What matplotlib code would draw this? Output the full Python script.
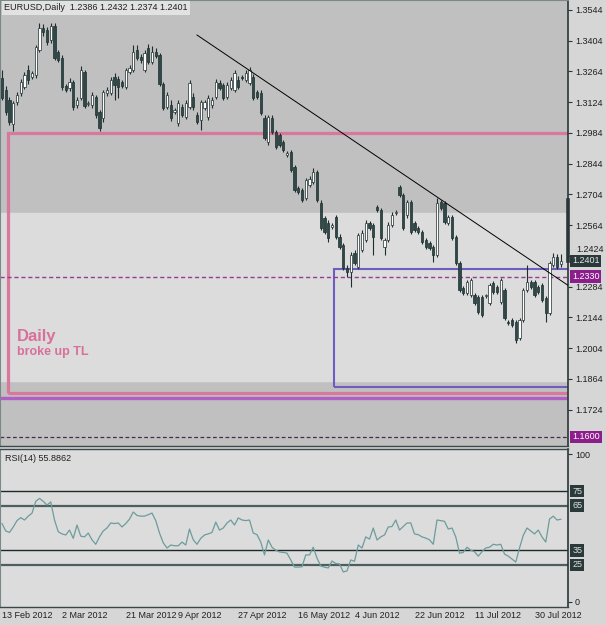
"""EURUSD daily chart (MetaTrader style) with RSI(14) sub-window."""

import matplotlib
matplotlib.use("Agg")
import matplotlib.pyplot as plt
from matplotlib.patches import Rectangle
import numpy as np

plt.rcParams["font.family"] = ["Liberation Sans", "DejaVu Sans"]

# ── data ─────────────────────────────────────────────────────────────────────
opens = [
    1.3234, 1.3180, 1.3134, 1.3025, 1.3125, 1.3166, 1.3193, 1.3271, 1.3239, 1.3248,
    1.3362, 1.3462, 1.3453, 1.3407, 1.3471, 1.3353, 1.3325, 1.3198, 1.3189, 1.3216,
    1.3111, 1.3143, 1.3262, 1.3116, 1.3111, 1.3148, 1.3079, 1.3052, 1.3166, 1.3166,
    1.3239, 1.3230, 1.3216, 1.3193, 1.3262, 1.3271, 1.3362, 1.3330, 1.3271, 1.3371,
    1.3307, 1.3353, 1.3339, 1.3207, 1.3102, 1.3111, 1.3079, 1.3029, 1.3102, 1.3057,
    1.3102, 1.3148, 1.3066, 1.3043, 1.3098, 1.3057, 1.3111, 1.3148, 1.3212, 1.3203,
    1.3148, 1.3189, 1.3180, 1.3225, 1.3239, 1.3225, 1.3212, 1.3239, 1.3171, 1.3166,
    1.3052, 1.2943, 1.3052, 1.2988, 1.2975, 1.2943, 1.2884, 1.2897, 1.2829, 1.2734,
    1.2724, 1.2688, 1.2747, 1.2761, 1.2806, 1.2665, 1.2597, 1.2574, 1.2556, 1.2601,
    1.2510, 1.2474, 1.2369, 1.2351, 1.2437, 1.2374, 1.2451, 1.2497, 1.2574, 1.2565,
    1.2647, 1.2633, 1.2465, 1.2497, 1.2565, 1.2620, 1.2738, 1.2701, 1.2610, 1.2670,
    1.2574, 1.2551, 1.2533, 1.2497, 1.2483, 1.2465, 1.2428, 1.2670, 1.2665, 1.2574,
    1.2601, 1.2510, 1.2392, 1.2278, 1.2255, 1.2246, 1.2246, 1.2237, 1.2237, 1.2242,
    1.2209, 1.2301, 1.2283, 1.2214, 1.2269, 1.2123, 1.2132, 1.2123, 1.2051, 1.2132,
    1.2269, 1.2305, 1.2305, 1.2283, 1.2292, 1.2233, 1.2164, 1.2383, 1.2419, 1.2386,
]
highs = [
    1.3271, 1.3198, 1.3148, 1.3130, 1.3171, 1.3230, 1.3262, 1.3294, 1.3266, 1.3385,
    1.3485, 1.3480, 1.3467, 1.3485, 1.3485, 1.3362, 1.3339, 1.3207, 1.3234, 1.3225,
    1.3148, 1.3289, 1.3271, 1.3130, 1.3171, 1.3157, 1.3089, 1.3180, 1.3193, 1.3239,
    1.3257, 1.3243, 1.3225, 1.3280, 1.3294, 1.3385, 1.3385, 1.3344, 1.3362, 1.3389,
    1.3380, 1.3371, 1.3348, 1.3216, 1.3171, 1.3134, 1.3098, 1.3134, 1.3116, 1.3134,
    1.3225, 1.3166, 1.3079, 1.3134, 1.3134, 1.3157, 1.3148, 1.3230, 1.3225, 1.3212,
    1.3216, 1.3239, 1.3271, 1.3243, 1.3248, 1.3271, 1.3284, 1.3253, 1.3180, 1.3180,
    1.3066, 1.3066, 1.3066, 1.2998, 1.2984, 1.2952, 1.2902, 1.2906, 1.2838, 1.2743,
    1.2734, 1.2779, 1.2788, 1.2825, 1.2815, 1.2679, 1.2606, 1.2588, 1.2574, 1.2610,
    1.2524, 1.2483, 1.2383, 1.2442, 1.2451, 1.2528, 1.2542, 1.2588, 1.2583, 1.2574,
    1.2656, 1.2642, 1.2506, 1.2579, 1.2624, 1.2633, 1.2747, 1.2711, 1.2679, 1.2679,
    1.2583, 1.2560, 1.2542, 1.2506, 1.2492, 1.2474, 1.2688, 1.2679, 1.2674, 1.2610,
    1.2610, 1.2519, 1.2401, 1.2287, 1.2315, 1.2324, 1.2255, 1.2246, 1.2246, 1.2251,
    1.2301, 1.2310, 1.2292, 1.2324, 1.2278, 1.2132, 1.2142, 1.2132, 1.2142, 1.2278,
    1.2383, 1.2315, 1.2315, 1.2292, 1.2301, 1.2242, 1.2401, 1.2437, 1.2433, 1.2432,
]
lows = [
    1.3134, 1.3066, 1.3020, 1.2993, 1.3111, 1.3152, 1.3184, 1.3207, 1.3230, 1.3234,
    1.3353, 1.3426, 1.3385, 1.3394, 1.3316, 1.3307, 1.3180, 1.3171, 1.3175, 1.3089,
    1.3098, 1.3134, 1.3098, 1.3107, 1.3098, 1.3052, 1.2993, 1.3034, 1.3152, 1.3157,
    1.3134, 1.3143, 1.3189, 1.3184, 1.3253, 1.3262, 1.3316, 1.3303, 1.3262, 1.3298,
    1.3298, 1.3325, 1.3198, 1.3089, 1.3093, 1.3039, 1.3070, 1.3016, 1.3057, 1.3048,
    1.3093, 1.3089, 1.3025, 1.2998, 1.3089, 1.3043, 1.3098, 1.3139, 1.3180, 1.3134,
    1.3139, 1.3180, 1.3171, 1.3184, 1.3225, 1.3216, 1.3203, 1.3134, 1.3139, 1.3066,
    1.2952, 1.2929, 1.2979, 1.2911, 1.2920, 1.2897, 1.2875, 1.2806, 1.2715, 1.2706,
    1.2670, 1.2679, 1.2738, 1.2752, 1.2670, 1.2542, 1.2524, 1.2488, 1.2547, 1.2501,
    1.2456, 1.2360, 1.2328, 1.2283, 1.2383, 1.2365, 1.2442, 1.2488, 1.2542, 1.2428,
    1.2624, 1.2497, 1.2428, 1.2488, 1.2556, 1.2610, 1.2692, 1.2542, 1.2597, 1.2524,
    1.2533, 1.2524, 1.2478, 1.2456, 1.2451, 1.2396, 1.2419, 1.2633, 1.2570, 1.2565,
    1.2497, 1.2383, 1.2260, 1.2246, 1.2246, 1.2237, 1.2201, 1.2160, 1.2146, 1.2233,
    1.2201, 1.2251, 1.2251, 1.2205, 1.2132, 1.2110, 1.2101, 1.2027, 1.2041, 1.2123,
    1.2260, 1.2274, 1.2237, 1.2251, 1.2214, 1.2123, 1.2155, 1.2374, 1.2365, 1.2374,
]
closes = [
    1.3143, 1.3079, 1.3034, 1.3121, 1.3157, 1.3216, 1.3248, 1.3225, 1.3257, 1.3375,
    1.3462, 1.3444, 1.3398, 1.3471, 1.3325, 1.3316, 1.3193, 1.3180, 1.3216, 1.3102,
    1.3134, 1.3271, 1.3107, 1.3121, 1.3157, 1.3066, 1.3007, 1.3171, 1.3180, 1.3225,
    1.3203, 1.3193, 1.3198, 1.3271, 1.3280, 1.3353, 1.3325, 1.3316, 1.3348, 1.3307,
    1.3353, 1.3335, 1.3207, 1.3098, 1.3157, 1.3052, 1.3089, 1.3121, 1.3066, 1.3121,
    1.3212, 1.3102, 1.3034, 1.3125, 1.3125, 1.3143, 1.3134, 1.3216, 1.3189, 1.3143,
    1.3203, 1.3225, 1.3257, 1.3193, 1.3234, 1.3257, 1.3271, 1.3143, 1.3148, 1.3075,
    1.2961, 1.3057, 1.2988, 1.2920, 1.2929, 1.2906, 1.2893, 1.2815, 1.2724, 1.2715,
    1.2679, 1.2770, 1.2774, 1.2806, 1.2679, 1.2551, 1.2533, 1.2506, 1.2565, 1.2510,
    1.2465, 1.2369, 1.2351, 1.2428, 1.2392, 1.2519, 1.2528, 1.2574, 1.2551, 1.2510,
    1.2633, 1.2506, 1.2497, 1.2565, 1.2610, 1.2624, 1.2701, 1.2551, 1.2670, 1.2533,
    1.2542, 1.2533, 1.2488, 1.2465, 1.2460, 1.2428, 1.2665, 1.2642, 1.2579, 1.2601,
    1.2506, 1.2392, 1.2269, 1.2255, 1.2305, 1.2315, 1.2209, 1.2169, 1.2155, 1.2244,
    1.2292, 1.2260, 1.2260, 1.2315, 1.2142, 1.2119, 1.2110, 1.2041, 1.2132, 1.2269,
    1.2305, 1.2283, 1.2246, 1.2260, 1.2223, 1.2164, 1.2392, 1.2419, 1.2374, 1.2401,
]
rsi = [
    53, 48, 47, 50.7, 55, 57, 55.4, 58, 60, 68,
    70, 68, 65.5, 67.6, 55.4, 47.5, 46, 45.3, 48.6, 43,
    52, 44.5, 44, 46.6, 42, 39, 44, 48, 50, 53.4,
    53, 53.4, 50.7, 53, 56, 60.8, 58.5, 58, 58, 59,
    60.1, 55, 46.6, 40, 36.5, 38.5, 38, 38, 40.5, 38.5,
    49.3, 42, 39, 43, 45.3, 46, 47, 54, 48.6, 50,
    53.4, 55.4, 52, 56.8, 55.4, 55, 55.4, 46.6, 45.5, 40.5,
    31.8, 41.9, 37, 35, 33.8, 33.5, 33, 28.4, 23.6, 23.6,
    23.8, 31.8, 31.8, 37, 29.7, 24.3, 23.5, 23, 27.7, 26,
    25.7, 20.3, 21, 28.4, 27.5, 38.5, 36.5, 44, 42.5, 50,
    41.9, 44, 45.3, 50.7, 51, 55.4, 48.6, 51, 53.4, 53.4,
    46, 45.5, 44, 43.2, 42, 39, 55.4, 55, 54.5, 49.3,
    50, 44, 33, 33.5, 37, 35, 34, 31, 34, 36.5,
    37, 39, 38.5, 39, 32.4, 31, 29, 27, 36.5, 45,
    50, 48, 46, 48.6, 44, 40.5, 56, 58, 55.4, 55.9,
]

date_idx = [0, 16, 33, 47, 63, 79, 94, 110, 126, 142]
date_labels = ["13 Feb 2012", "2 Mar 2012", "21 Mar 2012", "9 Apr 2012", "27 Apr 2012",
               "16 May 2012", "4 Jun 2012", "22 Jun 2012", "11 Jul 2012", "30 Jul 2012"]
price_ticks = [1.3544, 1.3404, 1.3264, 1.3124, 1.2984, 1.2844, 1.2704, 1.2564,
               1.2424, 1.2284, 1.2144, 1.2004, 1.1864, 1.1724]
rsi_levels = [75, 65, 35, 25]

# drawn objects (price levels)
band_lo, band_hi = 1.1856, 1.2620
pink_top, pink_bottom, pink_left = 1.2985, 1.1800, 1.6
blue_top, blue_bottom, blue_left = 1.2365, 1.1825, 88.5
purple_level = 1.1775
dash_levels = [1.2330, 1.1600]
trend_x = [52.0, 151.2]
trend_y = [1.3430, 1.2287]

DARK_BG = "#c0c0c0"
LIGHT_BG = "#dcdcdc"
MARGIN = "#d6d6d6"
BEAR = "#2f4848"
WICK = "#1e2e2e"
AXIS = "#2a3636"
PINK = "#d8789c"
BLUE = "#6e5cc0"
PURPLE = "#b060c4"
LABEL_PURPLE = "#8c1e8c"

W, H = 606, 625
fig = plt.figure(figsize=(W / 100, H / 100), dpi=100, facecolor=MARGIN)
ax = fig.add_axes([0, 1 - 446 / H, 568 / W, 446 / H], facecolor=DARK_BG)
ax_rsi = fig.add_axes([0, 1 - 607 / H, 568 / W, 158 / H], facecolor=LIGHT_BG, sharex=ax)

x = np.arange(len(opens))
o, hi, lo, c = map(np.array, (opens, highs, lows, closes))
up = c >= o

# ── price pane ───────────────────────────────────────────────────────────────
ax.axhspan(band_lo, band_hi, color=LIGHT_BG, zorder=0)
ax.add_patch(Rectangle((pink_left, pink_bottom), 300, pink_top - pink_bottom,
                       fill=False, ec=PINK, lw=2.3, zorder=2))
ax.add_patch(Rectangle((blue_left, blue_bottom), 300, blue_top - blue_bottom,
                       fill=False, ec=BLUE, lw=1.5, zorder=2))
ax.axhline(purple_level, color=PURPLE, lw=2.4, zorder=2)
ax.axhline(dash_levels[0], color="#963c96", lw=1.0, ls=(0, (3, 2)), zorder=2)
ax.axhline(dash_levels[1], color="#4a2a4a", lw=0.9, ls=(0, (3, 2)), zorder=2)

ax.vlines(x, lo, hi, color=WICK, lw=0.8, zorder=3)
ax.bar(x, c - o, bottom=o, width=0.62, color=np.where(up, "white", BEAR),
       edgecolor=WICK, lw=0.5, zorder=4)
ax.plot(trend_x, trend_y, color="black", lw=0.7, zorder=5)

ax.text(4.0, 1.2056, "Daily", color="#d8709a", fontsize=12, fontweight="bold",
        va="center", ha="left")
ax.text(4.0, 1.1987, "broke up TL", color="#d8709a", fontsize=9, fontweight="bold",
        va="center", ha="left")

ax.set_xlim(-0.533, 150.93)
ax.set_ylim(1.15585, 1.35895)
ax.yaxis.tick_right()
ax.set_yticks(price_ticks)
# 1.2424 sits right under the last-price box, so it is written a little higher
ax.set_yticklabels(["" if t == 1.2424 else f"{t:.4f}" for t in price_ticks])
ax.tick_params(axis="y", length=3, width=0.8, color=AXIS, labelsize=6.5,
               labelcolor="#202020", pad=2)
ax.tick_params(axis="x", bottom=False, labelbottom=False)
ax.annotate("1.2424", xy=(1, 1.2424), xycoords=("axes fraction", "data"),
            xytext=(5.8, 4.5), textcoords="offset points", va="center", ha="left",
            fontsize=6.5, color="#202020", annotation_clip=False)
for side, col, lw in [("right", AXIS, 1.2), ("left", "#7a8888", 0.8),
                      ("top", "#7a8888", 0.8), ("bottom", "#3a4848", 1.0)]:
    ax.spines[side].set_color(col)
    ax.spines[side].set_linewidth(lw)

# current-bar range marker on the price scale
ax.plot([1, 1], [closes[-1], 1.2679], transform=ax.get_yaxis_transform(),
        color=AXIS, lw=2.6, clip_on=False, zorder=6)


def scale_label(a, y, text, bg, fg="white"):
    a.annotate(text, xy=(1, y), xycoords=("axes fraction", "data"),
               xytext=(3, 0), textcoords="offset points", va="center", ha="left",
               fontsize=6.5, color=fg, annotation_clip=False, zorder=7,
               bbox=dict(boxstyle="square,pad=0.2", fc=bg, ec="none"))


scale_label(ax, closes[-1], f"{closes[-1]:.4f}", "#2a3a3a", "#e8e8e8")
scale_label(ax, dash_levels[0], f"{dash_levels[0]:.4f}", LABEL_PURPLE)
scale_label(ax, dash_levels[1], f"{dash_levels[1]:.4f}", LABEL_PURPLE)

fig.text(4 / W, 1 - 8 / H,
         f"EURUSD,Daily  {opens[-1]:.4f} {highs[-1]:.4f} {lows[-1]:.4f} {closes[-1]:.4f}",
         fontsize=6.5, color="#202020", va="center", ha="left",
         bbox=dict(boxstyle="square,pad=0.25", fc="#e2e2e2", ec="none"))

# ── RSI pane ─────────────────────────────────────────────────────────────────
for lvl in rsi_levels:
    heavy = lvl in (65, 25)
    ax_rsi.axhline(lvl, color="#4e5e5e" if heavy else "#1e2a2a",
                   lw=1.6 if heavy else 1.0, zorder=1)
    scale_label(ax_rsi, lvl, str(lvl), "#2a3a3a", "#e0e0e0")
ax_rsi.plot(x, rsi, color="#6d9c9c", lw=0.9, zorder=2)
ax_rsi.text(5 / 568, 0.937, "RSI(14) 55.8862", transform=ax_rsi.transAxes,
            fontsize=6.5, color="#202020", va="center", ha="left")

ax_rsi.set_ylim(-3.38, 103.38)
ax_rsi.yaxis.tick_right()
ax_rsi.set_yticks([0, 100])
ax_rsi.set_yticklabels(["0", "100"])
ax_rsi.tick_params(axis="y", length=3, width=0.8, color=AXIS, labelsize=6.5,
                   labelcolor="#202020", pad=2)
ax_rsi.set_xticks(date_idx)
ax_rsi.set_xticklabels(date_labels)
ax_rsi.tick_params(axis="x", length=0, labelsize=6.5, labelcolor="#202020", pad=3)
for lab in ax_rsi.get_xticklabels():
    lab.set_ha("left")
for side, col, lw in [("right", AXIS, 1.2), ("left", "#7a8888", 0.8),
                      ("top", "#3a4848", 1.0), ("bottom", "#3a4848", 1.0)]:
    ax_rsi.spines[side].set_color(col)
    ax_rsi.spines[side].set_linewidth(lw)

fig.savefig("out.png", dpi=100, facecolor=MARGIN)
